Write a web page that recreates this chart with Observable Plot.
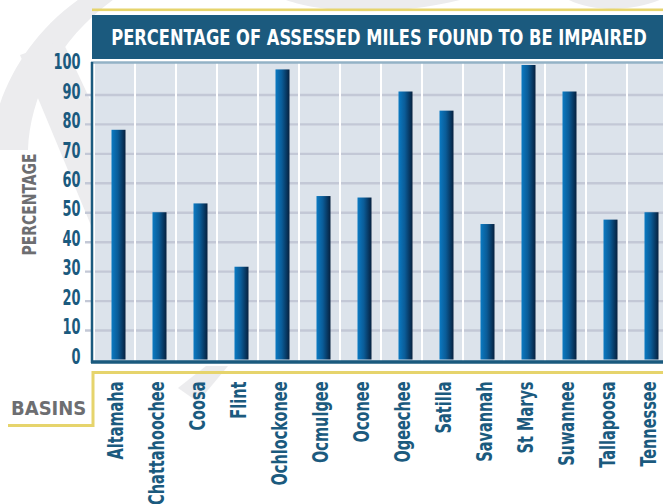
<!DOCTYPE html>
<html>
<head>
<meta charset="utf-8">
<script src="https://cdn.jsdelivr.net/npm/d3@7"></script>
<script src="https://cdn.jsdelivr.net/npm/@observablehq/plot@0.6"></script>
<style>
  html, body { margin: 0; padding: 0; background: #ffffff; overflow: hidden; }
  #chart { width: 663px; height: 504px; }
</style>
</head>
<body>
<div id="chart"></div>
<script>
const titleText = "PERCENTAGE OF ASSESSED MILES FOUND TO BE IMPAIRED";
const yLabel = "PERCENTAGE";
const xLabel = "BASINS";
const basins = ["Altamaha","Chattahoochee","Coosa","Flint","Ochlockonee","Ocmulgee","Oconee","Ogeechee","Satilla","Savannah","St Marys","Suwannee","Tallapoosa","Tennessee"];
const percentImpaired = [78, 50, 53, 31.5, 98.5, 55.5, 55, 91, 84.5, 46, 100, 91, 47.5, 50];
const yTicks = [0, 10, 20, 30, 40, 50, 60, 70, 80, 90, 100];

const data = basins.map((b, i) => ({basin: b, pct: percentImpaired[i]}));

const FONT = "'Liberation Sans Narrow', 'Arial Narrow', 'DejaVu Sans Condensed', sans-serif";
const BLUE = "#1b5a7e";
const GRAY = "#6d6e71";
const YELLOW = "#e6d46c";
const W = 663, H = 504;
const M = {top: 62, right: 0, bottom: 142, left: 91};

const chart = Plot.plot({
  width: W,
  height: H,
  marginTop: M.top,
  marginRight: M.right,
  marginBottom: M.bottom,
  marginLeft: M.left,
  style: {fontFamily: FONT, fontWeight: "bold", background: "transparent", overflow: "visible"},
  x: {domain: basins, range: [90.9, 670.6], padding: 0, label: null},
  y: {domain: [0, 100], range: [359.5, 65], label: null},
  marks: [
    Plot.frame({fill: "#dce3eb", stroke: null}),
    Plot.ruleY(yTicks.filter(t => t > 0 && t < 100), {stroke: "#c3c8d6", strokeWidth: 2.4, insetLeft: -6}),
    Plot.cell(basins, {x: d => d, fill: "none", stroke: "#ffffff", strokeWidth: 2}),
    Plot.barY(data, {x: "basin", y: "pct", fill: "url(#barGrad)", insetLeft: 17.5, insetRight: 9.5}),
    Plot.ruleY([0], {stroke: BLUE, strokeWidth: 3.5, dy: 2}),
    Plot.axisY({ticks: yTicks, tickSize: 0, tickPadding: 11, dy: -3, fontSize: 21, fill: BLUE, fontWeight: "bold", label: null}),
    Plot.axisX({tickSize: 0, tickPadding: 19, rotate: -90, textAnchor: "end", lineAnchor: "middle", dx: 1.5, fontSize: 21, fill: BLUE, fontWeight: "bold", label: null}),
    Plot.text([yLabel], {text: d => d, frameAnchor: "left", textAnchor: "middle", lineAnchor: "middle", rotate: -90, dx: -62, dy: -8, fontSize: 20, fill: GRAY, fontWeight: "bold"}),
    Plot.text([xLabel], {text: d => d, frameAnchor: "bottom-left", textAnchor: "start", dx: -80.5, dy: 52, fontSize: 20, fill: GRAY, fontWeight: "bold"})
  ]
});

document.getElementById("chart").appendChild(chart);

const svg = d3.select(chart);

// condense text to match the narrow typeface of the original
function squeeze(nodes, refText, targetLen) {
  const arr = nodes.filter(n => n.getComputedTextLength);
  if (!arr.length) return;
  const ref = arr.find(n => n.textContent === refText) || arr[0];
  const natural = ref.getComputedTextLength();
  const factor = Math.min(1, targetLen / natural);
  arr.forEach(n => {
    const w = n.getComputedTextLength();
    n.setAttribute("textLength", (w * factor).toFixed(2));
    n.setAttribute("lengthAdjust", "spacingAndGlyphs");
  });
}
const allTexts = Array.from(chart.querySelectorAll("text"));
squeeze(Array.from(chart.querySelectorAll('g[aria-label="y-axis tick label"] text')), "100", 27);
squeeze(Array.from(chart.querySelectorAll('g[aria-label="x-axis tick label"] text')), "Altamaha", 78);
squeeze(allTexts.filter(n => n.textContent === yLabel), yLabel, 102);

// gradient for bars
const defs = svg.insert("defs", ":first-child");
const grad = defs.append("linearGradient").attr("id", "barGrad").attr("x1", 0).attr("x2", 1).attr("y1", 0).attr("y2", 0);
grad.append("stop").attr("offset", 0).attr("stop-color", "#0b7ac2");
grad.append("stop").attr("offset", 0.45).attr("stop-color", "#0a5c98");
grad.append("stop").attr("offset", 1).attr("stop-color", "#06203e");

// watermark (behind everything)
const wm = svg.insert("g", "defs + *").attr("fill", "#ececee").attr("stroke", "none");
wm.append("path").attr("d", "M -10,150 C -5,95 25,35 85,-5 L 120,-5 C 60,35 30,95 28,150 Z");
wm.append("path").attr("d", "M 20,55 L 62,40 L 95,110 L 95,235 Z");
wm.append("path").attr("d", "M 178,388 L 198,402 L 228,366 L 206,366 Z");
wm.append("path").attr("d", "M 275,-5 C 300,10 380,20 460,0 L 460,-5 Z");
wm.append("path").attr("d", "M 560,-5 C 590,15 640,12 670,-5 Z");

// frame borders
const deco = svg.append("g");
deco.append("line").attr("x1", M.left).attr("x2", W).attr("y1", 62.5).attr("y2", 62.5).attr("stroke", "#93b2c6").attr("stroke-width", 2.5);
deco.append("line").attr("x1", 92).attr("x2", 92).attr("y1", 62).attr("y2", 363).attr("stroke", BLUE).attr("stroke-width", 2.5);

// title banner
deco.append("rect").attr("x", 92).attr("y", 8.5).attr("width", W - 92).attr("height", 2.6).attr("fill", YELLOW);
deco.append("rect").attr("x", 92).attr("y", 15).attr("width", W - 92).attr("height", 44).attr("fill", BLUE);
const title = deco.append("text").text(titleText)
  .attr("x", 0).attr("y", 0)
  .attr("text-anchor", "middle")
  .attr("fill", "#ffffff").attr("font-size", 22).attr("font-weight", "bold")
  .attr("font-family", FONT);
const tw = title.node().getComputedTextLength();
const sx = tw > 0 ? 536 / tw : 1;
title.attr("transform", `translate(379,45) scale(${sx.toFixed(4)},1)`);

// yellow bracket
deco.append("polyline").attr("points", `8,425.5 93,425.5 93,372.5 ${W},372.5`)
  .attr("fill", "none").attr("stroke", YELLOW).attr("stroke-width", 3);
</script>
</body>
</html>
